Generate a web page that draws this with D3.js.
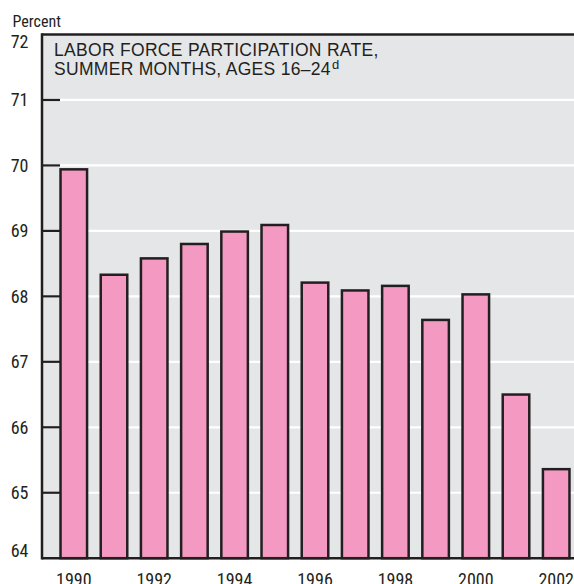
<!DOCTYPE html>
<html>
<head>
<meta charset="utf-8">
<script src="https://cdn.jsdelivr.net/npm/d3@7/dist/d3.min.js"></script>
<style>
  html, body { margin: 0; padding: 0; background: #fff; }
  svg { display: block; }
  .narrow { font-family: "Liberation Sans Narrow", "Arial Narrow", "Roboto Condensed", sans-serif; fill: #231f20; }
  .title { font-family: "Liberation Sans", Arial, Helvetica, sans-serif; fill: #231f20; }
</style>
</head>
<body>
<svg id="chart" width="574" height="584"></svg>
<script>
// Labor force participation rate, summer months, ages 16–24 (percent)
const years = [1990, 1991, 1992, 1993, 1994, 1995, 1996, 1997, 1998, 1999, 2000, 2001, 2002];
const rates = [69.94, 68.33, 68.58, 68.80, 68.99, 69.09, 68.21, 68.09, 68.16, 67.64, 68.03, 66.50, 65.36];
const yTicks = [64, 65, 66, 67, 68, 69, 70, 71, 72];
const xTickLabels = [1990, 1992, 1994, 1996, 1998, 2000, 2002];
const titleLines = ["LABOR FORCE PARTICIPATION RATE,", "SUMMER MONTHS, AGES 16\u201324"];
const titleNote = "d";
const unitLabel = "Percent";

const svg = d3.select("#chart");
const plot = { left: 42, right: 574, top: 34.5, bottom: 558.2 };

const y = d3.scaleLinear().domain([64, 72]).range([plot.bottom, plot.top]);
const x = d3.scaleBand()
  .domain(years)
  .range([53.7, 576.3])
  .paddingInner(0.28)
  .paddingOuter(0.14);

const ink = "#231f20";

// panel background
svg.append("rect")
  .attr("x", plot.left).attr("y", plot.top)
  .attr("width", plot.right - plot.left).attr("height", plot.bottom - plot.top)
  .attr("fill", "#e5e6e8");

// white gridlines
svg.append("g").selectAll("line")
  .data(yTicks.filter(t => t > 64 && t < 72))
  .join("line")
  .attr("x1", plot.left).attr("x2", plot.right)
  .attr("y1", d => y(d)).attr("y2", d => y(d))
  .attr("stroke", "#fff").attr("stroke-width", 2.2);

// short dark ticks on the left edge
svg.append("g").selectAll("line")
  .data(yTicks.filter(t => t > 64 && t < 72))
  .join("line")
  .attr("x1", plot.left).attr("x2", plot.left + 18)
  .attr("y1", d => y(d)).attr("y2", d => y(d))
  .attr("stroke", ink).attr("stroke-width", 2.2);

// bars
svg.append("g").selectAll("rect")
  .data(years.map((yr, i) => ({ yr, v: rates[i] })))
  .join("rect")
  .attr("x", d => x(d.yr) + 1.2)
  .attr("width", x.bandwidth() - 2.4)
  .attr("y", d => y(d.v))
  .attr("height", d => y(64) - y(d.v))
  .attr("fill", "#f49ac2")
  .attr("stroke", ink)
  .attr("stroke-width", 2.5);

// frame: left, top and bottom rules
svg.append("line")
  .attr("x1", plot.left).attr("x2", plot.left)
  .attr("y1", plot.top - 1.2).attr("y2", plot.bottom + 1.2)
  .attr("stroke", ink).attr("stroke-width", 2.5);
svg.append("line")
  .attr("x1", plot.left).attr("x2", plot.right)
  .attr("y1", plot.top).attr("y2", plot.top)
  .attr("stroke", ink).attr("stroke-width", 2.5);
svg.append("line")
  .attr("x1", plot.left).attr("x2", plot.right)
  .attr("y1", plot.bottom).attr("y2", plot.bottom)
  .attr("stroke", ink).attr("stroke-width", 2.5);

// y tick labels
svg.append("g").selectAll("text")
  .data(yTicks)
  .join("text")
  .attr("class", "narrow")
  .attr("x", 28.5)
  .attr("y", d => d === 72 ? y(d) + 13.5 : d === 64 ? y(d) - 1 : y(d) + 6.5)
  .attr("text-anchor", "end")
  .attr("font-size", 18)
  .text(d => d);

// x tick labels
svg.append("g").selectAll("text")
  .data(xTickLabels)
  .join("text")
  .attr("class", "narrow")
  .attr("x", d => x(d) + x.bandwidth() / 2)
  .attr("y", 585.5)
  .attr("text-anchor", "middle")
  .attr("font-size", 18)
  .text(d => d);

// unit label
svg.append("text")
  .attr("class", "narrow")
  .attr("x", 12.5).attr("y", 26.5)
  .attr("font-size", 16)
  .text(unitLabel);

// panel title
const title = svg.append("text")
  .attr("class", "title")
  .attr("font-size", 17.5)
  .attr("letter-spacing", 0.3);
title.append("tspan").attr("x", 54).attr("y", 56).text(titleLines[0]);
title.append("tspan").attr("x", 54).attr("y", 75).text(titleLines[1]);
title.append("tspan").attr("dy", -6).attr("dx", 1).attr("font-size", 13).text(titleNote);
</script>
</body>
</html>
